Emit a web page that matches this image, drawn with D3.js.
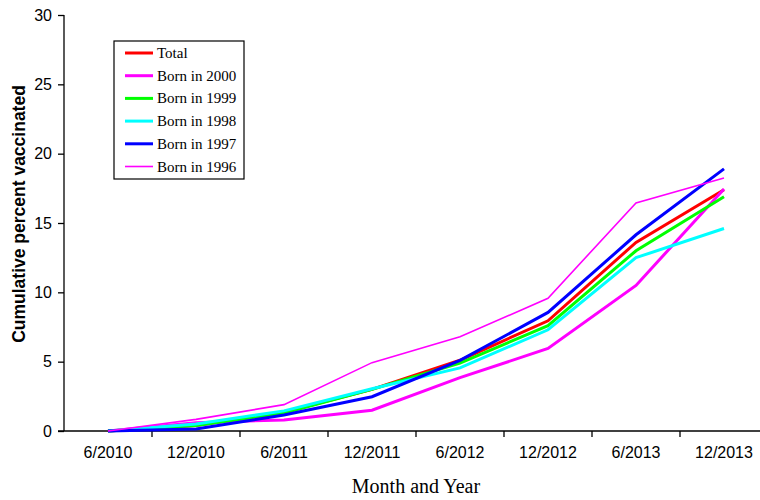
<!DOCTYPE html>
<html><head><meta charset="utf-8">
<script src="https://cdn.jsdelivr.net/npm/d3@7"></script>
<style>body{margin:0;background:#fff}svg{display:block}</style>
</head><body><svg id="c" width="760" height="500"></svg>
<script>
const categories = ["6/2010","12/2010","6/2011","12/2011","6/2012","12/2012","6/2013","12/2013"];
const seriesNames = ["Total","Born in 2000","Born in 1999","Born in 1998","Born in 1997","Born in 1996"];
const seriesColors = ["#ff0000","#ff00ff","#00ff00","#00ffff","#0000ff","#ff00ff"];
const seriesWidths = [3,3,3,3,3,1.6];
const total   = [0,0.4,1.35,3.0,5.1,7.95,13.6,17.4];
const born2000= [0,0.6,0.8,1.5,3.85,5.95,10.5,17.45];
const born1999= [0,0.4,1.3,3.0,4.9,7.6,13.0,16.9];
const born1998= [0,0.5,1.45,3.05,4.55,7.3,12.5,14.6];
const born1997= [0,0.15,1.15,2.47,5.1,8.55,14.15,18.9];
const born1996= [0,0.84,1.9,4.93,6.8,9.57,16.45,18.25];
const seriesValues = [total,born2000,born1999,born1998,born1997,born1996];
const yTicks = [0,5,10,15,20,25,30];

const svg = d3.select("#c");
const x = d3.scaleBand().domain(categories).range([64,768]).padding(0);
const y = d3.scaleLinear().domain([0,30]).range([431,15]);

// y axis
const ya = svg.append("g").attr("transform","translate(64,0)")
  .call(d3.axisLeft(y).tickValues(yTicks).tickSize(6).tickPadding(6));
ya.select(".domain").attr("stroke","#000").attr("stroke-width",1.3).attr("d","M0,15V431");
ya.selectAll(".tick line").attr("stroke","#000").attr("stroke-width",1.3);
ya.selectAll("text").attr("font-family","Liberation Sans, Arial, sans-serif").attr("font-size",16).attr("fill","#000");

// x axis
const xa = svg.append("g").attr("transform","translate(0,431)")
  .call(d3.axisBottom(x).tickSize(0).tickPadding(16));
xa.select(".domain").attr("stroke","#000").attr("stroke-width",1.3).attr("d","M58,0H768");
xa.selectAll("text").attr("font-family","Liberation Sans, Arial, sans-serif").attr("font-size",16).attr("fill","#000");
svg.append("g").selectAll("line").data(categories.slice(0,-1)).join("line")
  .attr("x1",d=>x(d)+x.bandwidth()).attr("x2",d=>x(d)+x.bandwidth())
  .attr("y1",431).attr("y2",437).attr("stroke","#000").attr("stroke-width",1.3);

// titles
svg.append("text").attr("transform","translate(25,214) rotate(-90)").attr("text-anchor","middle")
  .attr("font-family","Liberation Sans, Arial, sans-serif").attr("font-weight","bold").attr("font-size",17.5)
  .text("Cumulative percent vaccinated");
svg.append("text").attr("x",416).attr("y",493).attr("text-anchor","middle")
  .attr("font-family","Liberation Serif, Times New Roman, serif").attr("font-size",20)
  .text("Month and Year");

// lines
const line = d3.line().x((d,i)=>x(categories[i])+x.bandwidth()/2).y(d=>y(d));
seriesValues.forEach((vals,k)=>{
  svg.append("path").datum(vals).attr("d",line).attr("fill","none")
    .attr("stroke",seriesColors[k]).attr("stroke-width",seriesWidths[k]).attr("stroke-linejoin","miter");
});

// legend
const lg = svg.append("g");
lg.append("rect").attr("x",114).attr("y",41).attr("width",130).attr("height",138)
  .attr("fill","#fff").attr("stroke","#000").attr("stroke-width",1.2);
seriesNames.forEach((n,k)=>{
  const yy = 53 + k*22.7;
  lg.append("line").attr("x1",125).attr("x2",153).attr("y1",yy).attr("y2",yy)
    .attr("stroke",seriesColors[k]).attr("stroke-width",seriesWidths[k]);
  lg.append("text").attr("x",157).attr("y",yy+5).attr("font-family","Liberation Serif, Times New Roman, serif")
    .attr("font-size",15).text(n);
});
</script></body></html>
